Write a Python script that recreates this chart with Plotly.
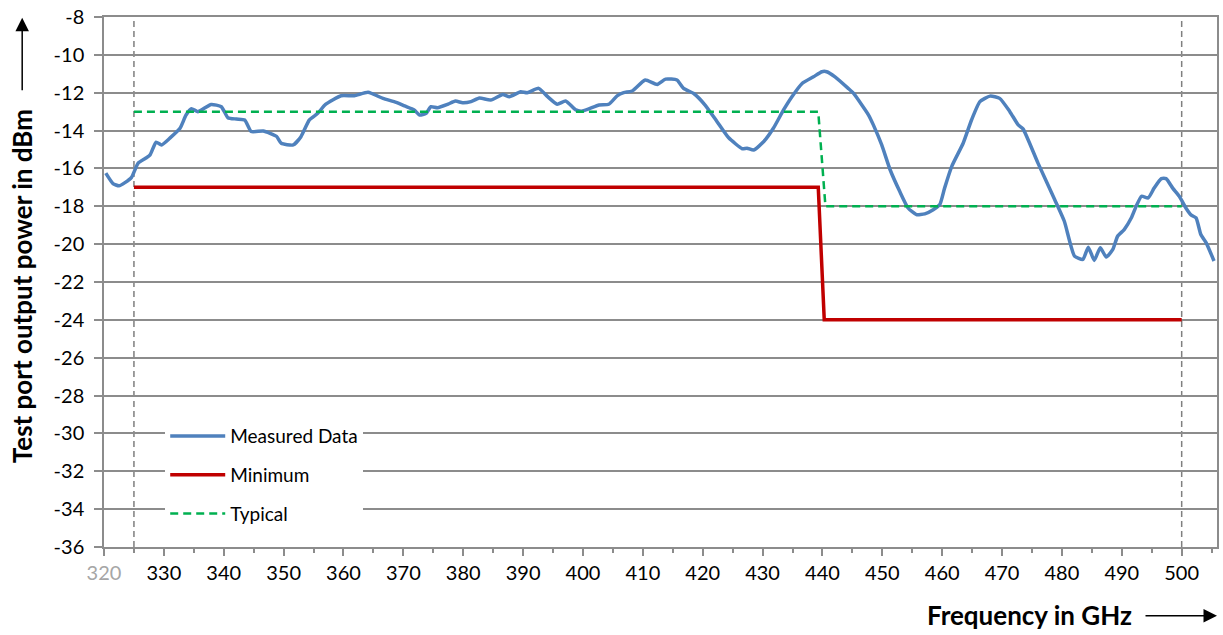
import plotly.graph_objects as go

# Measured test port output power (GHz, dBm)
freq_measured = [
    320.3, 321.5, 322.5, 323.5, 324.6, 325.7, 327.0, 327.7, 328.7, 329.6,
    331.0, 332.7, 333.7, 334.6, 335.7, 337.9, 339.6, 340.7, 342.1, 343.5,
    344.6, 346.6, 348.8, 349.6, 351.6, 352.9, 354.3, 355.7, 357.0, 359.6,
    361.8, 364.1, 366.6, 368.8, 370.2, 371.8, 372.7, 373.8, 374.6, 375.7,
    377.4, 378.7, 379.9, 381.3, 382.7, 384.6, 386.6, 387.7, 389.6, 390.7,
    392.6, 394.1, 395.7, 397.1, 398.8, 399.9, 402.7, 404.3, 405.7, 406.8,
    408.2, 410.4, 412.4, 413.8, 415.7, 416.8, 418.5, 420.4, 422.4, 424.3,
    426.6, 427.4, 428.5, 430.2, 431.8, 433.5, 434.9, 436.6, 438.5, 439.9,
    440.7, 442.1, 444.3, 445.2, 447.7, 448.5, 449.9, 451.3, 452.9, 454.3,
    455.7, 457.1, 458.5, 459.6, 460.4, 461.6, 463.5, 464.9, 466.3, 468.0,
    469.6, 471.3, 472.7, 473.5, 476.0, 478.8, 480.4, 482.1, 483.5, 484.4,
    485.4, 486.4, 487.4, 488.5, 489.3, 490.4, 491.6, 492.4, 493.3, 494.4,
    495.4, 496.6, 497.4, 498.5, 499.6, 500.7, 501.6, 502.4, 503.2, 504.1,
    505.4,
]
power_measured = [
    -16.25, -16.80, -16.92, -16.75, -16.47, -15.72, -15.45, -15.28, -14.61, -14.76,
    -14.40, -13.88, -13.18, -12.85, -13.00, -12.62, -12.74, -13.32, -13.39, -13.44,
    -14.05, -14.02, -14.30, -14.67, -14.76, -14.32, -13.44, -13.09, -12.62, -12.16,
    -12.16, -11.98, -12.30, -12.51, -12.70, -12.91, -13.18, -13.09, -12.74, -12.79,
    -12.61, -12.44, -12.53, -12.47, -12.28, -12.39, -12.09, -12.21, -11.95, -12.00,
    -11.77, -12.21, -12.61, -12.44, -12.91, -12.97, -12.65, -12.61, -12.17, -12.00,
    -11.91, -11.33, -11.56, -11.28, -11.33, -11.77, -12.04, -12.65, -13.53, -14.37,
    -14.96, -14.93, -15.03, -14.58, -13.88, -12.91, -12.21, -11.51, -11.16, -10.89,
    -10.89, -11.16, -11.77, -12.04, -13.18, -13.70, -14.76, -16.07, -17.21, -18.09,
    -18.44, -18.40, -18.18, -17.91, -17.04, -15.89, -14.67, -13.44, -12.47, -12.18,
    -12.30, -13.00, -13.70, -13.91, -15.72, -17.65, -18.79, -20.63, -20.81, -20.16,
    -20.86, -20.19, -20.68, -20.28, -19.58, -19.23, -18.61, -18.00, -17.47, -17.56,
    -17.04, -16.54, -16.54, -17.04, -17.47, -18.09, -18.47, -18.61, -19.49, -19.93,
    -20.89,
]

# Specification limits
freq_minimum = [325, 439.3, 440.3, 500]
power_minimum = [-17, -17, -24, -24]
freq_typical = [325, 439.3, 440.5, 500]
power_typical = [-13, -13, -18, -18]

# Band edges of the specified range
band_edges = [325, 500]

x_tick_vals = list(range(320, 501, 10))
x_tick_text = ['<span style="color:#A6A6A6">320</span>'] + [str(v) for v in range(330, 501, 10)]
y_tick_vals = list(range(-36, -7, 2))
y_tick_text = [str(v) for v in y_tick_vals]

FONT = "Lato"
GRID = "#8C8C8C"

fig = go.Figure()

fig.add_trace(go.Scatter(
    x=freq_measured, y=power_measured, mode="lines", name="Measured Data",
    legendgroup="a",
    line=dict(color="#4F81BD", width=3.5, shape="spline", smoothing=0.5),
))
fig.add_trace(go.Scatter(
    x=freq_minimum, y=power_minimum, mode="lines", name="Minimum",
    legendgroup="b",
    line=dict(color="#C00000", width=3.5),
))
fig.add_trace(go.Scatter(
    x=freq_typical, y=power_typical, mode="lines", name="Typical",
    legendgroup="c",
    line=dict(color="#00B050", width=2.5, dash="8px,5px"),
))

for edge in band_edges:
    fig.add_vline(x=edge, line=dict(color="#7F7F7F", width=1.5, dash="6px,4px"), layer="below")

fig.update_layout(
    width=1223, height=635,
    margin=dict(l=104, r=4, t=15, b=88),
    paper_bgcolor="white", plot_bgcolor="white",
    font=dict(family=FONT, size=20, color="black"),
    showlegend=True,
    legend=dict(
        x=0.055, y=0.245, xanchor="left", yanchor="top",
        bgcolor="white", borderwidth=0,
        font=dict(family=FONT, size=19, color="black"),
        traceorder="grouped", tracegroupgap=11,
        itemwidth=55, entrywidth=190,
    ),
    xaxis=dict(
        range=[320, 505.9],
        tickmode="array", tickvals=x_tick_vals, ticktext=x_tick_text,
        showgrid=False, zeroline=False,
        showline=True, linecolor=GRID, linewidth=1.5, mirror=True,
        ticks="outside", ticklen=7, tickcolor=GRID, tickwidth=1.5,
        minor=dict(dtick=5, tick0=325, ticks="outside", ticklen=4, tickcolor=GRID, tickwidth=1.5),
        tickfont=dict(family=FONT, size=20, color="black"),
    ),
    yaxis=dict(
        range=[-36, -8],
        tickmode="array", tickvals=y_tick_vals, ticktext=y_tick_text,
        showgrid=True, gridcolor=GRID, gridwidth=1.5, zeroline=False,
        showline=True, linecolor=GRID, linewidth=1.5, mirror=True,
        ticks="outside", ticklen=8, tickcolor=GRID, tickwidth=1.5,
        ticklabelstandoff=6,
        tickfont=dict(family=FONT, size=20, color="black"),
    ),
)

# Axis titles with arrows
fig.add_annotation(
    text="<b>Test port output power in dBm</b>", textangle=-90,
    xref="paper", yref="paper", x=-0.0735, y=0.4925,
    xanchor="center", yanchor="middle", showarrow=False,
    font=dict(family=FONT, size=26, color="black"),
)
fig.add_annotation(
    text="", xref="paper", yref="paper", x=-0.0735, y=0.9985,
    ax=0, ay=74, axref="pixel", ayref="pixel",
    showarrow=True, arrowhead=2, arrowsize=1.8, arrowwidth=1.5, arrowcolor="black",
)
fig.add_annotation(
    text="<b>Frequency in GHz</b>",
    xref="paper", yref="paper", x=0.8314, y=-0.128,
    xanchor="center", yanchor="middle", showarrow=False,
    font=dict(family=FONT, size=26, color="black"),
)
fig.add_annotation(
    text="", xref="paper", yref="paper", x=1.0, y=-0.1295,
    ax=-73, ay=0, axref="pixel", ayref="pixel",
    showarrow=True, arrowhead=2, arrowsize=1.8, arrowwidth=1.5, arrowcolor="black",
)

fig.write_html("out.html")
